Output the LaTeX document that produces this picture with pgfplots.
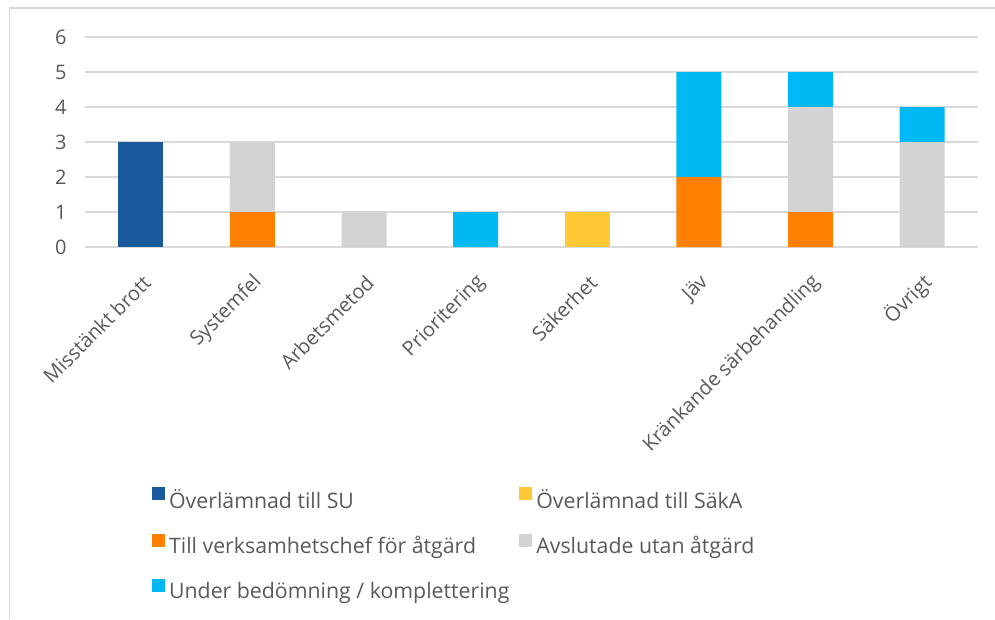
\documentclass[border=0pt]{standalone}
\usepackage{fontspec}
\setmainfont{Open Sans}
\usepackage{pgfplots}
\pgfplotsset{compat=1.18}
\definecolor{cSU}{HTML}{185A9C}
\definecolor{cSak}{HTML}{FFC936}
\definecolor{cTill}{HTML}{FF7F00}
\definecolor{cAvs}{HTML}{D3D3D3}
\definecolor{cUnd}{HTML}{00B8F4}
\definecolor{gridc}{HTML}{D9D9D9}
\definecolor{txt}{HTML}{595959}
\begin{document}
\begin{tikzpicture}
\path[use as bounding box] (-85pt,-372pt) rectangle (910pt,247pt);
\draw[gridc, line width=1.2pt] (-75.5pt,-372pt) -- (-75.5pt,239pt) -- (910pt,239pt);
\begin{axis}[
  anchor=south west,
  scale only axis, width=893pt, height=210pt,
  ybar stacked, bar width=45pt,
  xmin=-0.5, xmax=7.5, ymin=0, ymax=6,
  xtick={0,...,7},
  xticklabels={Misstänkt brott,Systemfel,Arbetsmetod,Prioritering,Säkerhet,Jäv,Kränkande särbehandling,Övrigt},
  ytick={0,...,6},
  axis line style={draw=none},
  major tick style={draw=none},
  ymajorgrids, grid style={gridc, line width=1.5pt},
  /pgf/number format/assume math mode=true,
  xticklabel style={rotate=45, anchor=east, font=\fontsize{20}{24}\selectfont, text=txt, xshift=-15pt, yshift=-27pt},
  yticklabel style={font=\fontsize{20}{24}\selectfont, text=txt, xshift=-15pt},
  legend columns=2,
  legend cell align=left,
  legend style={at={(0.0716,-1.133)}, anchor=north west, draw=none, fill=none,
    font=\fontsize{21.3}{25}\selectfont, text=txt, row sep=22pt,
    /tikz/every odd column/.append style={column sep=2pt},
    /tikz/every even column/.append style={column sep=8pt}},
  legend image code/.code={\path[#1,draw=none] (0pt,-1pt) rectangle (13pt,12pt);},
]
\addplot[fill=cSU, draw=none] coordinates {(0,3) (1,0) (2,0) (3,0) (4,0) (5,0) (6,0) (7,0)};
\addplot[fill=cSak, draw=none] coordinates {(0,0) (1,0) (2,0) (3,0) (4,1) (5,0) (6,0) (7,0)};
\addplot[fill=cTill, draw=none] coordinates {(0,0) (1,1) (2,0) (3,0) (4,0) (5,2) (6,1) (7,0)};
\addplot[fill=cAvs, draw=none] coordinates {(0,0) (1,2) (2,1) (3,0) (4,0) (5,0) (6,3) (7,3)};
\addplot[fill=cUnd, draw=none] coordinates {(0,0) (1,0) (2,0) (3,1) (4,0) (5,3) (6,1) (7,1)};
\legend{Överlämnad till SU,Överlämnad till SäkA,Till verksamhetschef för åtgärd,Avslutade utan åtgärd,Under bedömning / komplettering}
\end{axis}
\end{tikzpicture}
\end{document}
